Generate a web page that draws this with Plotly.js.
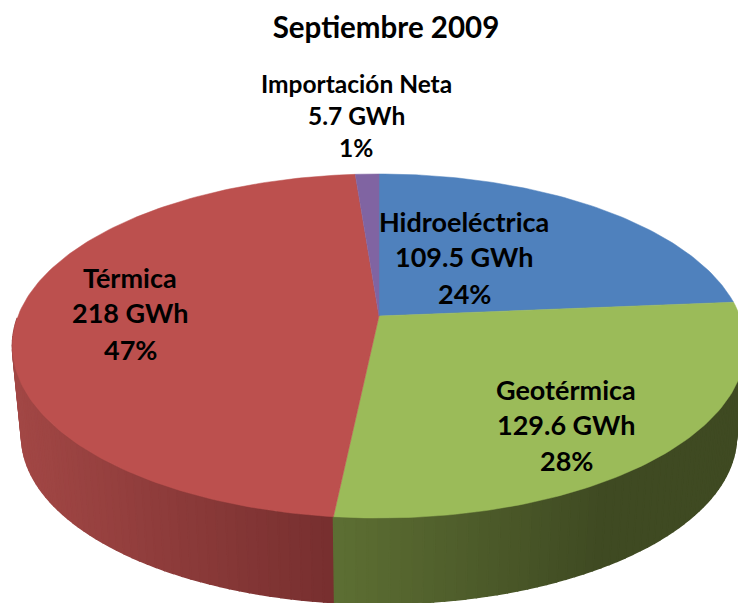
<!DOCTYPE html>
<html><head><meta charset="utf-8">
<script src="https://cdn.plot.ly/plotly-3.0.1.min.js"></script>
<style>html,body{margin:0;padding:0;background:#fff;overflow:hidden}</style>
</head><body><div id="chart" style="width:738px;height:603px"></div>
<script>
// Data
const titleText = "Septiembre 2009";
const categories = ["Hidroeléctrica", "Geotérmica", "Térmica", "Importación Neta"];
const gwh = [109.5, 129.6, 218, 5.7];
const gwhLabels = ["109.5 GWh", "129.6 GWh", "218 GWh", "5.7 GWh"];
const pctLabels = ["24%", "28%", "47%", "1%"];
const topColors = ["#4F81BD", "#9BBB59", "#BC504E", "#8064A2"];
// side shading per slice: colours from the front edge (x = 333) outward to the silhouette
const sideShades = [["#3A5F8C", "#3A5F8C"], ["#5D6F33", "#3F4A22"], ["#772F2F", "#A24745"], ["#5E4A78", "#5E4A78"]];
const shadeSpan = [1, 270, 318, 1];

// Label placement (chart pixels)
const labelX = [464, 566, 130, 356];
const labelY = [[221, 256, 293], [389, 424, 460], [277, 312, 349], [83, 115, 147]];
const labelSize = [27, 27, 27, 24.5];

// Projection of the tilted disc onto the page
const cx = 379, cyTop = 316, cyBottom = 407, R = 361, S = 166.8, k = 0.1744, rimScale = 0.975, frontX = 333;
function project(deg, scale, cy) {
  const t = deg * Math.PI / 180, u = Math.sin(t), v = -Math.cos(t), w = 1 - k * v;
  return [cx + scale * R * u / w, cy + scale * S * v / w];
}
function hex(c) { return [1, 3, 5].map(i => parseInt(c.substr(i, 2), 16)); }
function mix(a, b, f) {
  const A = hex(a), B = hex(b);
  return "rgb(" + A.map((x, i) => Math.round(x + (B[i] - x) * f)).join(",") + ")";
}

const total = gwh.reduce((a, b) => a + b, 0);
const slices = [];
let start = 0;
gwh.forEach((g) => { const sweep = g / total * 360; slices.push([start, start + sweep]); start += sweep; });

const traces = [];
// Side wall strips, back to front; only the part of the wall facing the viewer
const strips = [];
slices.forEach(([a, b], i) => {
  const n = Math.max(2, Math.ceil((b - a) / 1.5));
  for (let j = 0; j < n; j++) {
    const a0 = a + (b - a) * j / n, a1 = a + (b - a) * (j + 1) / n, mid = (a0 + a1) / 2;
    const v = -Math.cos(mid * Math.PI / 180);
    if (v < 0.02) continue;
    const f = Math.min(1, Math.abs(project(mid, 1, cyTop)[0] - frontX) / shadeSpan[i]);
    strips.push({ a0, a1, v, color: mix(sideShades[i][0], sideShades[i][1], f) });
  }
});
strips.sort((p, q) => p.v - q.v).forEach(s => {
  const pts = [project(s.a0, 1, cyTop), project(s.a1, 1, cyTop), project(s.a1, rimScale, cyBottom), project(s.a0, rimScale, cyBottom)];
  pts.push(pts[0]);
  traces.push({ type: "scatter", mode: "lines", x: pts.map(p => p[0]), y: pts.map(p => p[1]), fill: "toself",
    fillcolor: s.color, line: { color: s.color, width: 1.5 }, hoverinfo: "skip", showlegend: false });
});
// Top face
slices.forEach(([a, b], i) => {
  const xs = [cx], ys = [cyTop];
  const n = Math.max(4, Math.ceil(b - a));
  for (let j = 0; j <= n; j++) { const p = project(a + (b - a) * j / n, 1, cyTop); xs.push(p[0]); ys.push(p[1]); }
  xs.push(cx); ys.push(cyTop);
  traces.push({ type: "scatter", mode: "lines", x: xs, y: ys, fill: "toself", fillcolor: topColors[i],
    line: { color: topColors[i], width: 0.5 }, name: categories[i], showlegend: false,
    hovertemplate: categories[i] + "<br>" + gwhLabels[i] + "<br>" + pctLabels[i] + "<extra></extra>" });
});

const font = "Lato, Carlito, sans-serif";
const annotations = [];
categories.forEach((c, i) => {
  [c, gwhLabels[i], pctLabels[i]].forEach((line, j) => {
    annotations.push({ x: labelX[i], y: labelY[i][j], xref: "x", yref: "y", text: "<b>" + line + "</b>", showarrow: false,
      xanchor: "center", yanchor: "middle", font: { family: font, size: labelSize[i], color: "#000" } });
  });
});

const layout = {
  width: 738, height: 603, margin: { l: 0, r: 0, t: 0, b: 0 }, paper_bgcolor: "#fff", plot_bgcolor: "#fff",
  showlegend: false,
  title: { text: "<b>" + titleText + "</b>", x: 0.523, xanchor: "center", y: 0.954, yanchor: "middle", font: { family: font, size: 29.5, color: "#000" } },
  xaxis: { range: [0, 738], visible: false, fixedrange: true },
  yaxis: { range: [603, 0], visible: false, fixedrange: true },
  annotations
};
Plotly.newPlot("chart", traces, layout, { displayModeBar: false, staticPlot: true });
</script></body></html>
